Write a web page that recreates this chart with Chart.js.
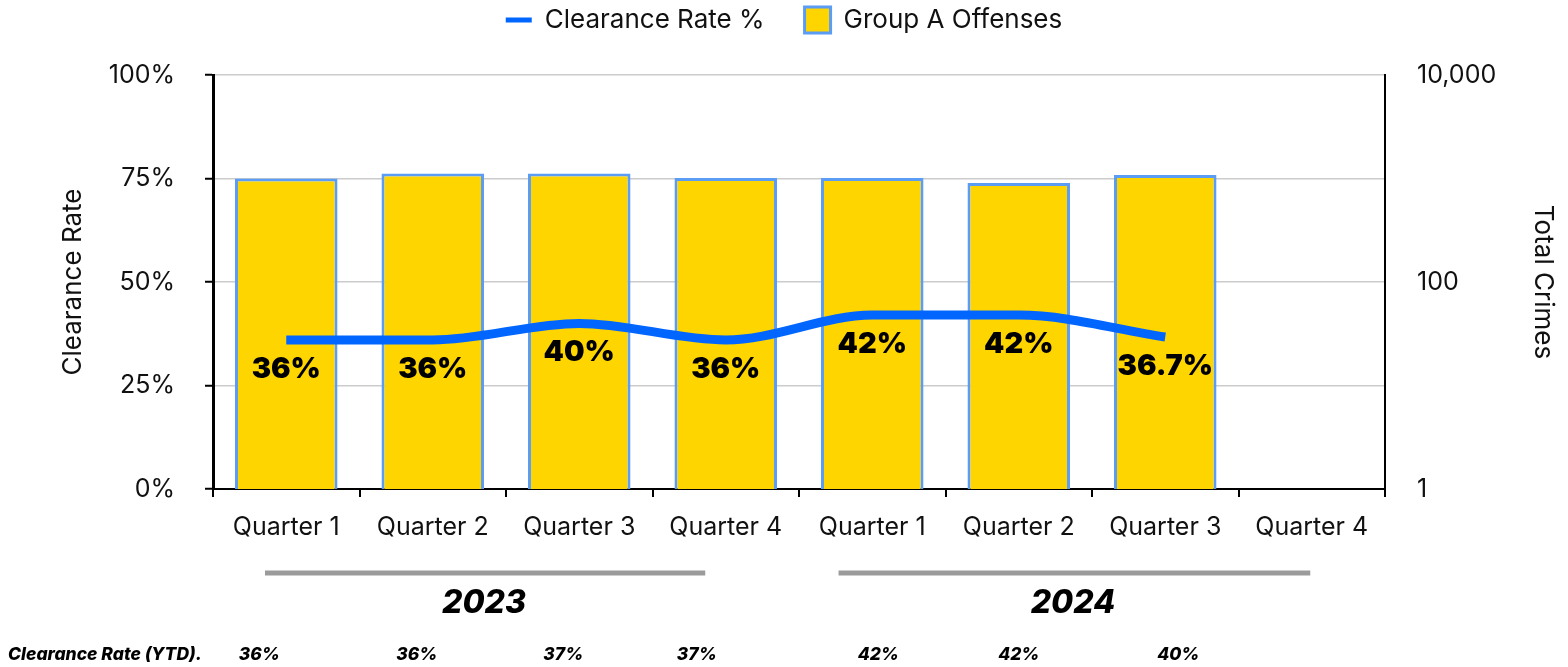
<!DOCTYPE html>
<html><head><meta charset="utf-8">
<script src="https://cdn.jsdelivr.net/npm/chart.js@4.4.1/dist/chart.umd.min.js"></script>
<style>html,body{margin:0;padding:0;background:#fff;}#wrap{width:1568px;height:667px;}</style>
</head><body><div id="wrap"><canvas id="c" width="1568" height="667"></canvas></div>
<script>
const categories = ['Quarter 1','Quarter 2','Quarter 3','Quarter 4','Quarter 1','Quarter 2','Quarter 3','Quarter 4'];
const clearanceRate = [36, 36, 40, 36, 42, 42, 36.7];
const groupAOffenses = [1000, 1120, 1120, 1010, 1010, 905, 1080];
const leftTicks = [0, 25, 50, 75, 100];
const rightTicks = [1, 100, 10000];
const years = ['2023', '2024'];
const ytdLabel = 'Clearance Rate (YTD).';
const ytdValues = ['36%', '36%', '37%', '37%', '42%', '42%', '40%'];

Chart.defaults.font.family = 'Inter, "Noto Sans", sans-serif';
Chart.defaults.color = '#111';

const legendPlugin = {
  id: 'legendTweak',
  beforeInit(chart) {
    const leg = chart.legend;
    const f = leg.fit.bind(leg);
    leg.fit = function () { f(); this.height = 75; };
  },
  afterLayout(chart) {
    const leg = chart.legend;
    leg.top = -33;
    leg.left -= 24;
    leg.right -= 24;
  }
};

const labelPlugin = {
  id: 'valueLabels',
  afterDatasetsDraw(chart) {
    const ctx = chart.ctx;
    const meta = chart.getDatasetMeta(0);
    ctx.save();
    ctx.font = '900 29px Inter';
    ctx.fillStyle = '#000';
    ctx.textAlign = 'center';
    ctx.textBaseline = 'middle';
    meta.data.forEach((pt, i) => ctx.fillText(clearanceRate[i] + '%', pt.x, pt.y + 29));
    ctx.restore();
  }
};

const annotPlugin = {
  id: 'annot',
  afterDraw(chart) {
    const ctx = chart.ctx;
    const xs = chart.scales.x;
    const L = xs.left;
    const w = (xs.right - xs.left) / categories.length;
    ctx.save();
    ctx.strokeStyle = '#9b9b9b';
    ctx.lineWidth = 5;
    const spans = [[0.355, 3.36], [4.27, 7.49]];
    const centers = [1.85, 5.87];
    spans.forEach(s => {
      ctx.beginPath();
      ctx.moveTo(L + s[0] * w, 573);
      ctx.lineTo(L + s[1] * w, 573);
      ctx.stroke();
    });
    ctx.fillStyle = '#000';
    ctx.textAlign = 'center';
    ctx.textBaseline = 'middle';
    ctx.font = 'italic 800 32px Inter';
    years.forEach((y, i) => ctx.fillText(y, L + centers[i] * w, 603));
    ctx.font = 'italic 800 17.5px Inter';
    ctx.textAlign = 'left';
    ctx.fillText(ytdLabel, 8, 655);
    ctx.textAlign = 'center';
    const shift = [-27, -16, -16, -29, 6, 0, 13];
    ytdValues.forEach((v, i) => ctx.fillText(v, xs.getPixelForValue(i) + shift[i], 655));
    ctx.restore();
  }
};

new Chart(document.getElementById('c'), {
  type: 'bar',
  data: {
    labels: categories,
    datasets: [
      {
        type: 'line',
        label: 'Clearance Rate %',
        data: clearanceRate,
        yAxisID: 'y',
        borderColor: '#0066FF',
        backgroundColor: '#0066FF',
        borderWidth: 9,
        pointRadius: 0,
        cubicInterpolationMode: 'monotone',
        borderCapStyle: 'butt',
        fill: false,
        order: 0
      },
      {
        type: 'bar',
        label: 'Group A Offenses',
        data: groupAOffenses,
        yAxisID: 'y1',
        backgroundColor: '#FFD500',
        borderColor: '#5B9CF5',
        borderWidth: 3,
        barPercentage: 0.7,
        categoryPercentage: 1,
        order: 1
      }
    ]
  },
  options: {
    responsive: false,
    animation: false,
    devicePixelRatio: 1,
    layout: { padding: { left: 58, right: 10, top: 0, bottom: 130 } },
    plugins: {
      tooltip: { enabled: false },
      legend: {
        position: 'top',
        labels: {
          usePointStyle: true,
          pointStyleWidth: 26,
          padding: 40,
          font: { size: 26 },
          color: '#111',
          generateLabels(chart) {
            const items = Chart.defaults.plugins.legend.labels.generateLabels(chart);
            items.forEach(it => {
              const ds = chart.data.datasets[it.datasetIndex];
              if (ds.type === 'line') {
                it.pointStyle = 'line'; it.lineWidth = 5; it.strokeStyle = ds.borderColor; it.lineCap = 'butt';
              } else {
                it.pointStyle = 'rect'; it.lineWidth = 3; it.fillStyle = ds.backgroundColor; it.strokeStyle = ds.borderColor;
              }
            });
            return items;
          }
        }
      }
    },
    scales: {
      x: {
        grid: { offset: true, drawOnChartArea: false, drawTicks: true, tickLength: 8, color: '#000', lineWidth: 2 },
        border: { color: '#000', width: 2 },
        ticks: { font: { size: 25 }, color: '#111', padding: 15, maxRotation: 0, autoSkip: false },
        afterFit(s) { s.height = 48; }
      },
      y: {
        position: 'left',
        min: 0, max: 100,
        afterBuildTicks(s) { s.ticks = leftTicks.map(v => ({ value: v })); },
        ticks: { font: { size: 25 }, color: '#111', padding: 30, callback: v => v + '%' },
        grid: { color: '#cccccc', lineWidth: 1.5, tickColor: '#000', tickLength: 8, tickWidth: 2 },
        border: { color: '#000', width: 3 },
        title: { display: true, text: 'Clearance Rate', font: { size: 26 }, color: '#111', padding: { top: 0, bottom: 0 } },
        afterFit(s) { s.width = 155; }
      },
      y1: {
        type: 'logarithmic',
        position: 'right',
        min: 1, max: 10000,
        afterBuildTicks(s) { s.ticks = rightTicks.map(v => ({ value: v })); },
        ticks: { font: { size: 25 }, color: '#111', padding: 32, callback: v => Number(v).toLocaleString('en-US') },
        grid: { drawOnChartArea: false, drawTicks: false },
        border: { color: '#000', width: 2 },
        title: { display: true, text: 'Total Crimes', font: { size: 26 }, color: '#111', padding: { top: 0, bottom: 0 } },
        afterFit(s) { s.width = 173; }
      }
    }
  },
  plugins: [legendPlugin, labelPlugin, annotPlugin]
});
</script>
</body></html>
